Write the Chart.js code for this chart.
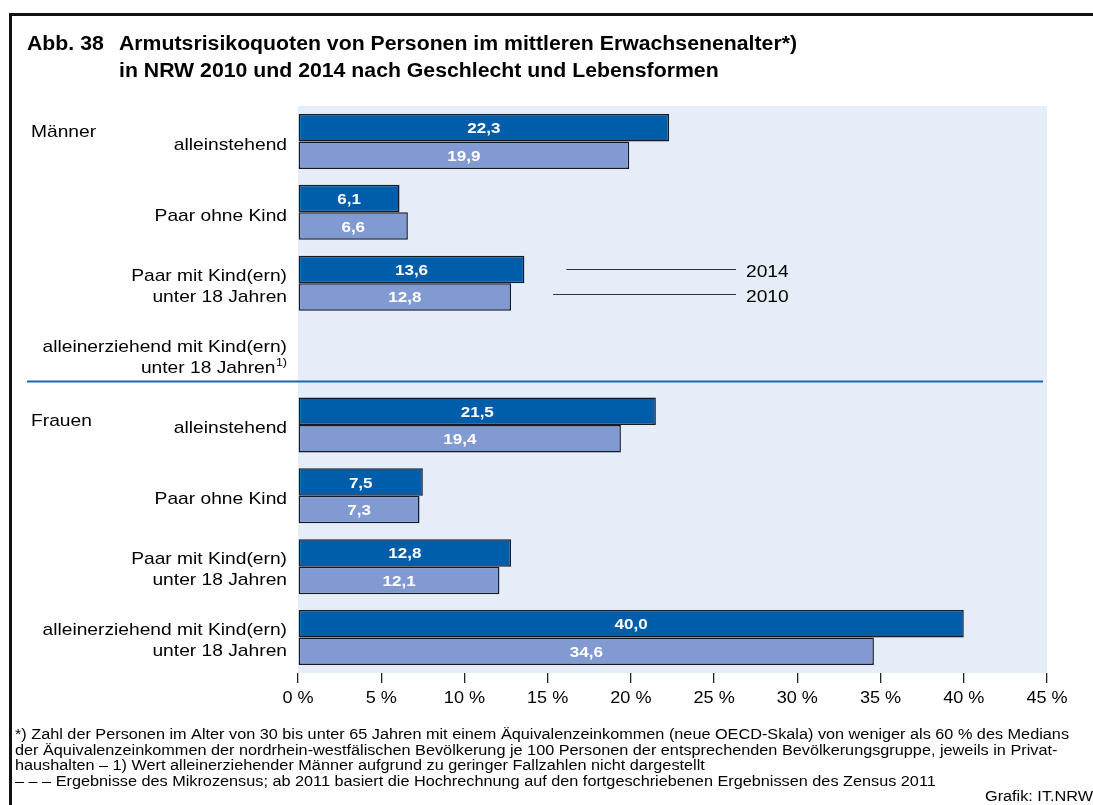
<!DOCTYPE html>
<html lang="de">
<head>
<meta charset="utf-8">
<title>Armutsrisikoquoten NRW 2010 und 2014</title>
<script src="https://cdn.jsdelivr.net/npm/chart.js@4.4.1/dist/chart.umd.min.js"></script>
<style>
  html, body { margin: 0; padding: 0; background: #fff; }
  #wrap { position: relative; width: 1093px; height: 805px; overflow: hidden; }
</style>
</head>
<body>
<div id="wrap"><canvas id="chart" width="1093" height="805"></canvas></div>
<script>
// -----------------------------
// DATA
// -----------------------------
const categories = [
    ["alleinstehend"],
    ["Paar ohne Kind"],
    ["Paar mit Kind(ern)", "unter 18 Jahren"],
    ["alleinerziehend mit Kind(ern)", "unter 18 Jahren"],
    ["alleinstehend"],
    ["Paar ohne Kind"],
    ["Paar mit Kind(ern)", "unter 18 Jahren"],
    ["alleinerziehend mit Kind(ern)", "unter 18 Jahren"]
];
const categoryNotes = ["", "", "", "1)", "", "", "", ""];

const groupNames = ["Männer", "Frauen"];
const groupStart = [0, 4];

const seriesNames = ["2014", "2010"];
const values2014 = [22.3, 6.1, 13.6, null, 21.5, 7.5, 12.8, 40.0];
const values2010 = [19.9, 6.6, 12.8, null, 19.4, 7.3, 12.1, 34.6];

const xTicks = [0, 5, 10, 15, 20, 25, 30, 35, 40, 45];

const titleNumber = "Abb. 38";
const titleLines = [
    "Armutsrisikoquoten von Personen im mittleren Erwachsenenalter*)",
    "in NRW 2010 und 2014 nach Geschlecht und Lebensformen"
];
const footnotes = [
    "*) Zahl der Personen im Alter von 30 bis unter 65 Jahren mit einem Äquivalenzeinkommen (neue OECD-Skala) von weniger als 60 % des Medians",
    "der Äquivalenzeinkommen der nordrhein-westfälischen Bevölkerung je 100 Personen der entsprechenden Bevölkerungsgruppe, jeweils in Privat-",
    "haushalten – 1) Wert alleinerziehender Männer aufgrund zu geringer Fallzahlen nicht dargestellt",
    "– – – Ergebnisse des Mikrozensus; ab 2011 basiert die Hochrechnung auf den fortgeschriebenen Ergebnissen des Zensus 2011"
];
const sourceText = "Grafik: IT.NRW";


// -----------------------------
// STYLE
// -----------------------------
const FONT = '"Liberation Sans", Arial, sans-serif';
const STRETCH = 1.13;           // the print font runs a little wide
const COLOR_2014 = "#005DAA";
const COLOR_2010 = "#819BD2";
const BAR_BORDER = "#161A26";
const PLOT_BG = "#E5EDF8";
const GROUP_PCT = 0.775;


// -----------------------------
// TEXT HELPERS
// -----------------------------
function drawText(ctx, text, x, y, font, align, color, sx) {
    ctx.save();
    ctx.font = font;
    ctx.fillStyle = color || "#000";
    ctx.textAlign = align || "left";
    ctx.textBaseline = "alphabetic";
    ctx.translate(x, y);
    ctx.scale(sx || STRETCH, 1);
    ctx.fillText(text, 0, 0);
    ctx.restore();
}

function textWidth(ctx, text, font, sx) {
    ctx.save();
    ctx.font = font;
    const w = ctx.measureText(text).width * (sx || STRETCH);
    ctx.restore();
    return w;
}

function fmt(v) {
    return v.toFixed(1).replace(".", ",");
}


// -----------------------------
// PLUGINS
// -----------------------------
const plotBackground = {
    id: "plotBackground",
    beforeDraw(chart) {
        const { ctx, chartArea: a } = chart;
        ctx.save();
        ctx.fillStyle = PLOT_BG;
        ctx.fillRect(a.left, a.top, a.right - a.left, a.bottom - a.top);
        ctx.restore();
    }
};

const barValues = {
    id: "barValues",
    afterDatasetsDraw(chart) {
        const ctx = chart.ctx;
        chart.data.datasets.forEach((ds, d) => {
            chart.getDatasetMeta(d).data.forEach((bar, i) => {
                const v = ds.data[i];
                if (v === null) return;
                drawText(ctx, fmt(v), (bar.x + bar.base) / 2, bar.y + 5.5,
                    "bold 15.5px " + FONT, "center", "#fff", 1.1);
            });
        });
    }
};

const decorations = {
    id: "decorations",
    afterDraw(chart) {
        const { ctx, chartArea: a } = chart;
        const yScale = chart.scales.y;
        const xScale = chart.scales.x;

        // frame
        ctx.save();
        ctx.strokeStyle = "#111";
        ctx.lineWidth = 3;
        ctx.strokeRect(10.5, 14.5, 2000, 2000);
        ctx.restore();

        // title
        const tFont = "bold 19.5px " + FONT;
        const tw = textWidth(ctx, titleLines[0], tFont, 1);
        const tsx = 678 / tw;
        drawText(ctx, titleNumber, 27, 50, tFont, "left", "#000", tsx);
        drawText(ctx, titleLines[0], 119, 50, tFont, "left", "#000", tsx);
        drawText(ctx, titleLines[1], 119, 77, tFont, "left", "#000", tsx);

        // category labels
        const cFont = "17px " + FONT;
        const right = a.left - 11;
        categories.forEach((lines, i) => {
            const c = yScale.getPixelForValue(i);
            const note = categoryNotes[i];
            if (lines.length === 1) {
                drawText(ctx, lines[0], right, c + 8.5, cFont, "right");
            } else {
                drawText(ctx, lines[0], right, c - 2.5, cFont, "right");
                let r = right;
                if (note) {
                    drawText(ctx, note, right, c + 11.5, "11px " + FONT, "right");
                    r = right - textWidth(ctx, note, "11px " + FONT) - 0.5;
                }
                drawText(ctx, lines[1], r, c + 18.5, cFont, "right");
            }
        });

        // group labels
        groupNames.forEach((g, k) => {
            const c = yScale.getPixelForValue(groupStart[k]);
            drawText(ctx, g, 31, c + (k === 0 ? -4.5 : 1), cFont, "left");
        });

        // separator between the two groups
        const y3 = yScale.getPixelForValue(3);
        const y4 = yScale.getPixelForValue(4);
        const sepY = y3 + (y4 - y3) * GROUP_PCT / 2;
        ctx.save();
        ctx.strokeStyle = "#1F66B0";
        ctx.lineWidth = 2;
        ctx.beginPath();
        ctx.moveTo(27, sepY);
        ctx.lineTo(a.right - 4, sepY);
        ctx.stroke();
        ctx.restore();

        // series leaders next to the third bar pair
        seriesNames.forEach((name, d) => {
            const bar = chart.getDatasetMeta(d).data[2];
            const ly = Math.round(bar.y - (d === 1 ? 2.5 : 0)) + 0.5;
            ctx.save();
            ctx.strokeStyle = "#333";
            ctx.lineWidth = 1;
            ctx.beginPath();
            ctx.moveTo(bar.x + 42, ly);
            ctx.lineTo(736, ly);
            ctx.stroke();
            ctx.restore();
            drawText(ctx, name, 746, ly + 7.5, cFont, "left");
        });

        // x tick labels
        xTicks.forEach(v => {
            drawText(ctx, v + " %", xScale.getPixelForValue(v), 703, "16px " + FONT, "center");
        });

        // footnotes
        const fFont = "14px " + FONT;
        const fsx = 1054 / textWidth(ctx, footnotes[0], fFont, 1);
        const fy = [739, 755, 770, 786];
        footnotes.forEach((line, i) => {
            drawText(ctx, line, 15, fy[i], fFont, "left", "#000", fsx);
        });
        drawText(ctx, sourceText, 985, 801, fFont, "left", "#000", fsx);
    }
};


// -----------------------------
// CHART
// -----------------------------
const ctx = document.getElementById("chart").getContext("2d");

new Chart(ctx, {
    type: "bar",
    data: {
        labels: categories.map(c => c.join(" ")),
        datasets: [
            {
                label: seriesNames[0],
                data: values2014,
                backgroundColor: COLOR_2014,
                borderColor: BAR_BORDER,
                borderWidth: 1.5,
                borderSkipped: false,
                barPercentage: 1,
                categoryPercentage: GROUP_PCT
            },
            {
                label: seriesNames[1],
                data: values2010,
                backgroundColor: COLOR_2010,
                borderColor: BAR_BORDER,
                borderWidth: 1.5,
                borderSkipped: false,
                barPercentage: 1,
                categoryPercentage: GROUP_PCT
            }
        ]
    },
    options: {
        indexAxis: "y",
        responsive: false,
        animation: false,
        layout: {
            padding: { left: 298, right: 46, top: 106, bottom: 98 }
        },
        plugins: {
            legend: { display: false },
            tooltip: { enabled: false }
        },
        scales: {
            y: {
                type: "category",
                display: false
            },
            x: {
                min: 0,
                max: 45,
                afterBuildTicks: scale => {
                    scale.ticks = xTicks.map(v => ({ value: v }));
                },
                afterFit: scale => {
                    scale.height = 34;
                },
                ticks: { display: false },
                border: { display: false },
                grid: {
                    drawOnChartArea: false,
                    drawTicks: true,
                    tickLength: 10,
                    color: "#222",
                    lineWidth: 1.3
                }
            }
        }
    },
    plugins: [plotBackground, barValues, decorations]
});
</script>
</body>
</html>
